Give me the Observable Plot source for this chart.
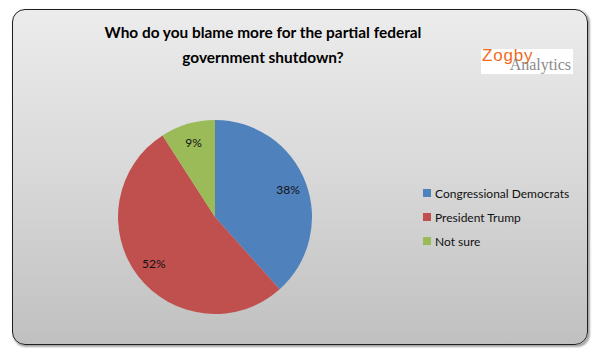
<!DOCTYPE html>
<html>
<head>
<meta charset="utf-8">
<script src="https://cdn.jsdelivr.net/npm/d3@7"></script>
<script src="https://cdn.jsdelivr.net/npm/@observablehq/plot@0.6"></script>
<style>
  html, body { margin: 0; padding: 0; background: #ffffff; }
  #wrap { position: relative; width: 598px; height: 356px; overflow: hidden; font-family: Lato, "Noto Sans", sans-serif; }
  #frame { position: absolute; left: 12px; top: 9px; width: 574px; height: 334px;
    border: 1.5px solid #1e1e1e; border-radius: 13px;
    background: linear-gradient(to bottom, #ececec 0%, #d8d8d8 50%, #c0c0c0 100%);
    box-shadow: 1.5px 1.5px 2px rgba(0,0,0,0.35); }
  #title { position: absolute; left: 90px; width: 346px; top: 20px; text-align: center;
    font-weight: bold; font-size: 15.4px; line-height: 25px; color: #000; }
  #logo { position: absolute; left: 481px; top: 49px; width: 92px; height: 25px; background: #fff; }
  #logo svg { position: absolute; left: 0; top: -8px; overflow: visible; }
  #chart { position: absolute; left: 0; top: 0; }
  #legend { position: absolute; left: 423px; top: 181px; font-size: 12px; color: #111; }
  #legend .row { display: flex; align-items: center; height: 24px; }
  #legend .sw { width: 8px; height: 8px; margin-right: 4px; }
</style>
</head>
<body>
<div id="wrap">
  <div id="frame"></div>
  <div id="title"></div>
  <div id="logo"><svg width="92" height="40"><text><tspan x="1" y="20" font-family="Liberation Sans, Arial, sans-serif" font-size="17" letter-spacing="0.8" fill="#f26b1d">Zogby</tspan><tspan x="90" y="29" text-anchor="end" font-family="Liberation Serif, Times New Roman, serif" font-size="16" fill="#8a8a8a">Analytics</tspan></text></svg></div>
  <div id="chart"></div>
  <div id="legend"></div>
</div>
<script>
const titleLines = ["Who do you blame more for the partial federal", "government shutdown?"];
const categories = ["Congressional Democrats", "President Trump", "Not sure"];
const values = [38, 52, 9];
const labels = ["38%", "52%", "9%"];
const colors = ["#4f81bd", "#c0504d", "#9bbb59"];

// layout
const W = 598, H = 356, CX = 215, CY = 217, R = 97, LABEL_R = 0.80;

document.getElementById("title").innerHTML = titleLines.join("<br>");

const rows = categories.map((c, i) => ({category: c, value: values[i], label: labels[i], color: colors[i]}));
const arcs = d3.pie().sort(null).value(d => d.value)(rows);
const labelRows = arcs.map(a => {
  const m = (a.startAngle + a.endAngle) / 2;
  return {label: a.data.label, x: LABEL_R * Math.sin(m), y: LABEL_R * Math.cos(m)};
});

const pieMark = (index, scales) => {
  const cx = scales.x(0), cy = scales.y(0), r = Math.abs(scales.x(1) - scales.x(0));
  const g = d3.create("svg:g").attr("transform", `translate(${cx},${cy})`);
  const arcGen = d3.arc().innerRadius(0).outerRadius(r);
  g.selectAll("path").data(arcs).join("path")
    .attr("d", arcGen)
    .attr("fill", d => d.data.color)
    .attr("stroke", "none");
  return g.node();
};

const chart = Plot.plot({
  width: W, height: H,
  margin: 0,
  style: {background: "transparent", overflow: "visible"},
  x: {domain: [-CX / R, (W - CX) / R], axis: null},
  y: {domain: [-(H - CY) / R, CY / R], axis: null},
  marks: [
    pieMark,
    Plot.text(labelRows, {x: "x", y: "y", text: "label", fontSize: 12, fill: "#111",
      fontFamily: "Lato, 'Noto Sans', sans-serif"})
  ]
});
document.getElementById("chart").appendChild(chart);

const legend = d3.select("#legend");
rows.forEach(r => {
  const row = legend.append("div").attr("class", "row");
  row.append("div").attr("class", "sw").style("background", r.color);
  row.append("span").text(r.category);
});
</script>
</body>
</html>
